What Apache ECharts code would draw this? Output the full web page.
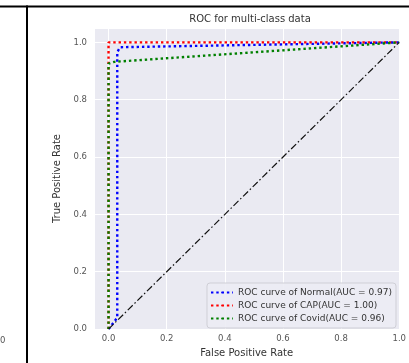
<!DOCTYPE html>
<html>
<head>
<meta charset="utf-8">
<script src="https://cdn.jsdelivr.net/npm/echarts@6/dist/echarts.min.js"></script>
<style>
html,body{margin:0;padding:0;background:#fff;}
#chart{width:409px;height:363px;}
</style>
</head>
<body>
<div id="chart"></div>
<script>
// ---- data ----
const titleText = 'ROC for multi-class data';
const xName = 'False Positive Rate';
const yName = 'True Positive Rate';
const seriesNames = ['ROC curve of Normal(AUC = 0.97)', 'ROC curve of CAP(AUC = 1.00)', 'ROC curve of Covid(AUC = 0.96)'];
const normalFpr = [0, 0.03, 0.03, 0.04, 1.0];
const normalTpr = [0, 0.04, 0.966, 0.983, 1.0];
const capFpr = [0, 0, 1.0];
const capTpr = [0, 1.0, 1.0];
const covidFpr = [0, 0, 0.02, 1.0];
const covidTpr = [0, 0.926, 0.932, 1.0];
const chanceFpr = [0, 1];
const chanceTpr = [0, 1];
const sideLabel = '0';

const zip = (a, b) => a.map((v, i) => [v, b[i]]);

const chart = echarts.init(document.getElementById('chart'), null, {renderer: 'canvas'});
const font = 'DejaVu Sans';
const dotted = [2.4, 2.9];

function curve(name, fpr, tpr, color, z) {
  return {
    name: name, type: 'line', data: zip(fpr, tpr), symbol: 'none', z: z,
    lineStyle: {color: color, width: 2.4, type: dotted, cap: 'butt'},
    itemStyle: {color: color},
    animation: false
  };
}

chart.setOption({
  animation: false,
  backgroundColor: '#ffffff',
  title: {
    text: titleText, left: 250, top: 14, textAlign: 'center', padding: 0,
    textStyle: {fontFamily: font, fontSize: 10, fontWeight: 'normal', color: '#333'}
  },
  grid: {left: 94, right: 3, top: 28, bottom: 31, show: true, backgroundColor: '#EAEAF2', borderWidth: 0, containLabel: false},
  xAxis: {
    type: 'value', min: -0.05, max: 1.0, splitNumber: 5,
    name: xName, nameLocation: 'middle', nameGap: 15,
    nameTextStyle: {fontFamily: font, fontSize: 10, color: '#333'},
    axisLine: {show: false}, axisTick: {show: false},
    axisLabel: {showMinLabel: false, margin: 5, fontFamily: font, fontSize: 8.5, color: '#555',
      formatter: v => v.toFixed(1)},
    splitLine: {show: true, lineStyle: {color: '#ffffff', width: 1}}
  },
  yAxis: {
    type: 'value', min: 0, max: 1.05, splitNumber: 5,
    name: yName, nameLocation: 'middle', nameGap: 22, nameRotate: 90,
    nameTextStyle: {fontFamily: font, fontSize: 10, color: '#333'},
    axisLine: {show: false}, axisTick: {show: false},
    axisLabel: {showMaxLabel: false, margin: 7, fontFamily: font, fontSize: 8.5, color: '#555',
      formatter: v => v.toFixed(1)},
    splitLine: {show: true, lineStyle: {color: '#ffffff', width: 1}}
  },
  legend: {
    data: seriesNames, orient: 'vertical', right: 13, bottom: 35,
    backgroundColor: 'rgba(236,236,244,0.9)', borderColor: '#cfcfd6', borderWidth: 1, borderRadius: 3,
    padding: [4, 4, 4, 3], itemGap: 2, itemWidth: 22, itemHeight: 2,
    textStyle: {fontFamily: font, fontSize: 9, color: '#333', lineHeight: 11}
  },
  graphic: [
    {type: 'rect', shape: {x: 0, y: 5.5, width: 409, height: 2}, style: {fill: '#000'}, silent: true},
    {type: 'rect', shape: {x: 26, y: 5.5, width: 2, height: 358}, style: {fill: '#000'}, silent: true},
    {type: 'text', left: 0, top: 336, style: {text: sideLabel, font: '8.5px "DejaVu Sans"', fill: '#555'}, silent: true}
  ],
  series: [
    curve(seriesNames[0], normalFpr, normalTpr, '#0000ff', 3),
    curve(seriesNames[1], capFpr, capTpr, '#ff0000', 4),
    curve(seriesNames[2], covidFpr, covidTpr, '#008000', 5),
    {
      name: 'chance', type: 'line', data: zip(chanceFpr, chanceTpr), symbol: 'none', z: 6,
      lineStyle: {color: '#111', width: 1.2, type: [7, 2.5, 1.5, 2.5]}, animation: false
    }
  ]
});
</script>
</body>
</html>
